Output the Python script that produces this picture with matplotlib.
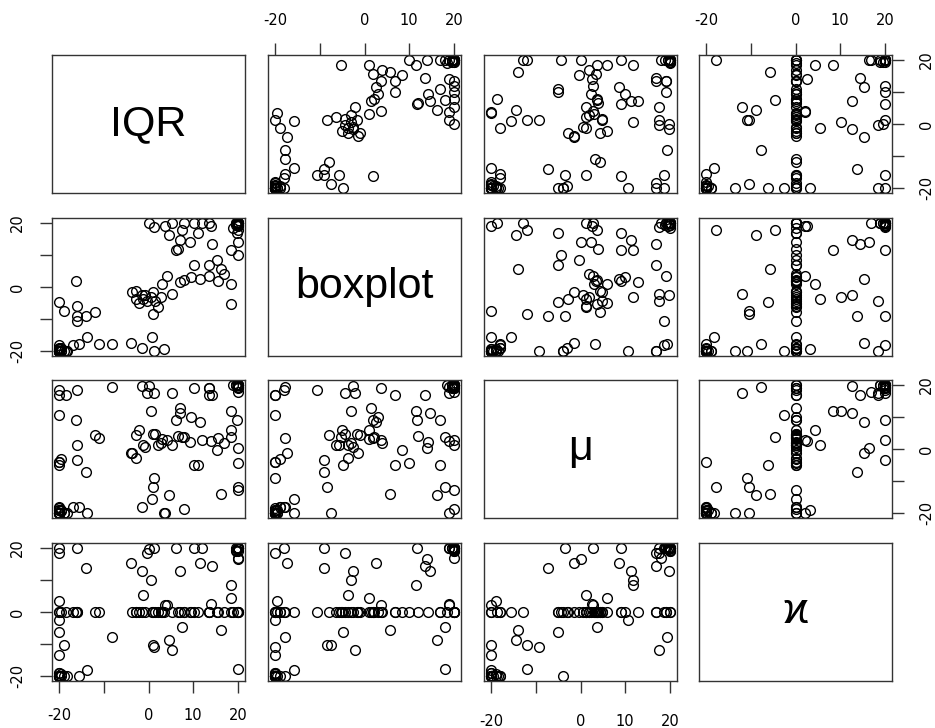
import numpy as np
import matplotlib.pyplot as plt

plt.rcParams['font.family'] = ['Liberation Sans', 'DejaVu Sans']

names = ['IQR', 'boxplot', 'μ', 'ϰ']

iqr = [-20, -20, -20, -20, -19, -20, -20, -20, -20, -19.5, -20, -20, -20, -18.2, -20, -18.9,
       -20, -20, -18.5, -16.2, -16, -16, -14.1, -16, -15.6, -13.7, -17, -11.9, -11.1, -8.1,
       -4, -1.4, 0.8, 1.2, 3.5, -2.7, -2.7, 1.1, 1.5, -0.4, 2.2, 1.1, -1.2, -1.5, 0.5, -3.8,
       0, 1.2, 5.2, 4.1, 7.1, 7.9, 11.6, 13.5, 10.1, 13.5, 15.4, 16.2, 4.5, 7.1, 9.3, 6.2,
       14.3, 5.2, 7.9, 10.1, 12, 13.5, 3.8, 7.4, 14, 11, 20, 20, 19.5, 20, 20, 19, 20, 18.4,
       19.9, 18.4, 18.4, 20, 20, 20, 20, 19.5, 20, 20, -20, -19.5,
       -20, -19.5, -20, -20, 20, 19.5, 20, 20, 17, 15.5, 9.5, 6.5, 3, -0.8, -2.2, 2.8]
boxplot = [-20, -20, -20, -20, -20, -19, -20, -20, -20, -19, -18, -20, -20, -20, -4.8, -7.4,
           -20, -19.5, -20, 2, -5.8, -9, -9, -10.6, -17.9, -15.8, -18, -7.9, -17.9, -17.9,
           -17.4, -19, -15.8, -20, -19.5, -1.1, -3.7, -1.7, -4.3, -4.3, -6.4, -8.5, -3.7, -2.5, -3, -1.5,
           20, 18.9, -2.1, 3.6, 1.5, 2.1, 2.6, 3.6, 6.8, 6.8, 8.4, 5.7, 16.2, 14.7, 14.2, 11.7,
           13.6, 20, 20, 20, 20, 20, 19, 18, 19, 17, 20, 20, 20, 19.5, 20, 18.5, 20, 11.5,
           16.8, 1, -5.3, 14, 10, 20, 18, 19.5, 20, 19, -20, -20,
           -19.5, -20, -20, -20, 20, 20, 19.5, 20, 4, 2, 3, 12, 1, -2.5, -5, -3]
mu = [-20, -20, -19, -20, -20, -18, -20, -4, -4, -3, 18.6, 17, 10.7, -20, -5, -20,
      -20, -19, 17, 9.1, 1.3, -3.5, -7.2, 18.6, -18, -20, -18, 4.4, 3.3, 19.3,
      -1.4, -18, -15.6, -9.2, -20, 4.4, -2.9, 4.8, 4.8, 17.6, 1.3, -11.9, 1.3, 19.8, 11.8, -1.4,
      19.8, 17.6, 17.6, 2.8, 12.8, 3.8, 8.6, 19.2, -5, 17, -0.3, -14, -14.5, 11.4, 2.3, 9.1,
      17, 1.3, -18.7, 19.2, 2.8, 19.2, -20, 3.8, 2.6, -5, 20, 20, 20, 19, 20, 20, 18, 11.8,
      9.1, 6, 3.8, 0.2, -4.4, -12.9, -11.9, 20, 20, 19.5, -20, -19.5,
      -20, -19, -18.5, -20, 19.5, 20, 20, 20, 2, 3.5, 10, 4, 3, 0.5, 6, 2]
kappa = [-20, -20, -20, -19, -20, -20, 0, 0, -20, 0, 20, 18.5, -2.5, -20, -6.2, -10.4,
         -13.6, 3.3, 0, 0, 0, 20, 13.8, 0, -20, -18.3, 0, 0, 0, -7.8,
         15.4, 0, 0, -10.9, 0, 0, 0, 0, 0, 18.5, 0, -10.4, 5.4, 12.7, 10.1, 0,
         19.6, 20, -12, 2.1, 0, 0, 15.4, 0, 0, 0, 0, -5.7, -8.8, 12.7, 0, 20,
         14.4, 0, 0, 20, 20, 0, 2.1, -4.6, 2.6, 0, 20, 20, 19, 20, 0, 0, 17, 8.5,
         0, 4.3, 0, 16.5, 0, 0, -17.8, 20, 20, 20, -20, -20,
         -20, -19.5, -20, -19, 20, 19.5, 20, 19, 0, 0, 0, 0, 0, 0, 0, 0]

variables = [iqr, boxplot, mu, kappa]

# panel geometry in pixels
W, H = 935, 728
col_left = [52, 268, 484, 699]
row_top = [55, 218, 380, 543]
pw, ph = 193, 138
lim = (-21.6, 21.6)
ticks = [-20, -10, 0, 10, 20]
xlabels = ['-20', '', '0', '10', '20']
ylabels = ['-20', '', '0', '', '20']

fig = plt.figure(figsize=(W / 100, H / 100), dpi=100)
n = len(variables)
for i in range(n):
    for j in range(n):
        ax = fig.add_axes([col_left[j] / W, (H - row_top[i] - ph) / H, pw / W, ph / H])
        ax.set_xlim(lim)
        ax.set_ylim(lim)
        for s in ax.spines.values():
            s.set_linewidth(1.0)
            s.set_color('#333333')
        ax.tick_params(length=8.5, width=1.0, color='#333333', labelsize=10.5,
                       bottom=False, top=False, left=False, right=False,
                       labelbottom=False, labeltop=False, labelleft=False, labelright=False)
        ax.set_xticks(ticks)
        ax.set_yticks(ticks)
        ax.set_xticklabels(xlabels, family='DejaVu Sans')
        ax.set_yticklabels(ylabels, family='DejaVu Sans', rotation=90, va='center')

        # axes alternate sides like a pairs() matrix
        if i == 0 and j % 2 == 1:
            ax.tick_params(top=True, labeltop=True, pad=11)
        if i == n - 1 and j % 2 == 0:
            ax.tick_params(bottom=True, labelbottom=True, pad=15)
        if j == 0 and i % 2 == 1:
            ax.tick_params(left=True, labelleft=True, pad=11)
        if j == n - 1 and i % 2 == 0:
            ax.tick_params(right=True, labelright=True, pad=11)
            for t in ax.yaxis.get_major_ticks():
                t.label2.set_horizontalalignment('left')

        if i == j:
            ax.text(0, 0, names[i], ha='center', va='center', fontsize=31)
        else:
            ax.plot(variables[j], variables[i], 'o', mfc='none', mec='black',
                    ms=7, mew=1.0)

fig.savefig('out.png', dpi=100)
